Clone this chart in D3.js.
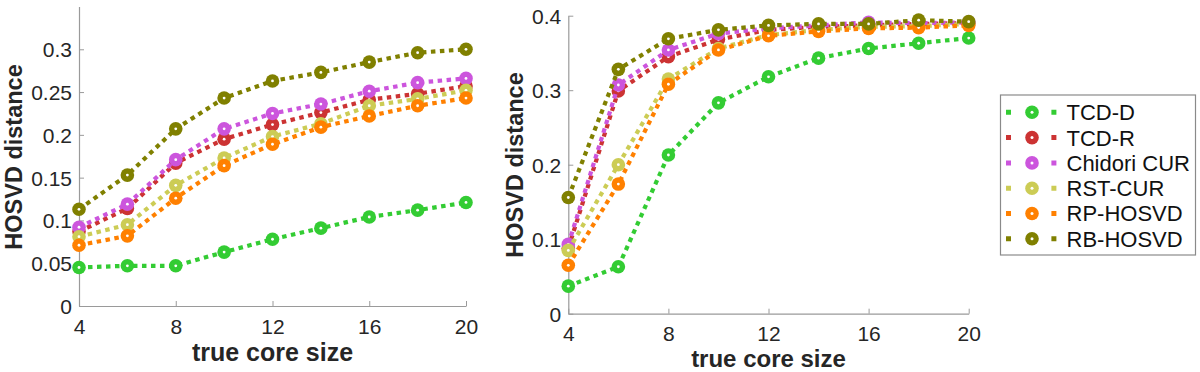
<!DOCTYPE html>
<html>
<head>
<meta charset="utf-8">
<script src="https://cdn.jsdelivr.net/npm/d3@7"></script>
<style>
  body { margin: 0; background: #fff; }
  svg { display: block; font-family: "Liberation Sans", Arial, sans-serif; }
</style>
</head>
<body>
<svg id="chart" width="1200" height="372"></svg>
<script>
// ---- data ----
const coreSizes = [4, 6, 8, 10, 12, 14, 16, 18, 20];
const seriesNames = ["TCD-D", "TCD-R", "Chidori CUR", "RST-CUR", "RP-HOSVD", "RB-HOSVD"];
const seriesColors = ["#33cc33", "#cc3333", "#cc55dd", "#cccc55", "#ff8000", "#808000"];

// left panel
const leftTCDD    = [0.045, 0.047, 0.047, 0.063, 0.078, 0.091, 0.104, 0.112, 0.121];
const leftTCDR    = [0.087, 0.114, 0.167, 0.195, 0.212, 0.226, 0.241, 0.248, 0.257];
const leftChidori = [0.092, 0.119, 0.171, 0.207, 0.225, 0.236, 0.251, 0.261, 0.266];
const leftRST     = [0.081, 0.095, 0.141, 0.173, 0.198, 0.213, 0.234, 0.242, 0.252];
const leftRP      = [0.071, 0.082, 0.126, 0.164, 0.189, 0.209, 0.222, 0.234, 0.243];
const leftRB      = [0.113, 0.153, 0.207, 0.243, 0.263, 0.273, 0.285, 0.296, 0.300];

// right panel
const rightTCDD    = [0.037, 0.063, 0.213, 0.283, 0.318, 0.343, 0.356, 0.363, 0.370];
const rightTCDR    = [0.088, 0.299, 0.345, 0.368, 0.381, 0.385, 0.387, 0.389, 0.390];
const rightChidori = [0.093, 0.307, 0.354, 0.376, 0.383, 0.387, 0.391, 0.390, 0.391];
const rightRST     = [0.085, 0.200, 0.315, 0.356, 0.374, 0.381, 0.385, 0.386, 0.389];
const rightRP      = [0.065, 0.174, 0.308, 0.354, 0.373, 0.379, 0.383, 0.384, 0.387];
const rightRB      = [0.156, 0.328, 0.369, 0.381, 0.387, 0.389, 0.389, 0.394, 0.392];

const xTicks = [4, 8, 12, 16, 20];
const leftYTicks = [0, 0.05, 0.1, 0.15, 0.2, 0.25, 0.3];
const rightYTicks = [0, 0.1, 0.2, 0.3, 0.4];
const xLabel = "true core size";
const yLabel = "HOSVD distance";

// ---- drawing ----
const svg = d3.select("#chart");
const fmt = v => String(+v.toFixed(2));

function panel(cfg) {
  const x = d3.scaleLinear().domain([4, 20]).range([cfg.x0, cfg.x1]);
  const y = d3.scaleLinear().domain([0, cfg.ymax]).range([cfg.y0, cfg.y1]);
  const g = svg.append("g");

  const xAxis = g.append("g").attr("transform", `translate(0,${cfg.y0})`)
    .call(d3.axisBottom(x).tickValues(xTicks).tickFormat(d3.format("d"))
      .tickSizeInner(-5).tickSizeOuter(0).tickPadding(cfg.xPad));
  const yAxis = g.append("g").attr("transform", `translate(${cfg.x0},0)`)
    .call(d3.axisLeft(y).tickValues(cfg.yTicks).tickFormat(fmt)
      .tickSizeInner(-5).tickSizeOuter(0).tickPadding(7));
  [xAxis, yAxis].forEach(a => {
    a.select(".domain").attr("stroke", "#9a9a9a").attr("stroke-width", 1.2);
    a.selectAll(".tick line").attr("stroke", "#9a9a9a");
    a.selectAll(".tick text").attr("fill", "#262626").style("font-size", "21px");
  });
  yAxis.selectAll(".tick text").attr("dy", "0.36em");

  g.append("text").attr("x", (cfg.x0 + cfg.x1) / 2).attr("y", cfg.xlabY)
    .attr("text-anchor", "middle").attr("font-weight", "bold")
    .style("font-size", cfg.xlabSize).attr("fill", "#262626").text(xLabel);
  g.append("text")
    .attr("transform", `translate(${cfg.ylabX},${cfg.ylabY}) rotate(-90)`)
    .attr("text-anchor", "middle").attr("font-weight", "bold")
    .style("font-size", "23.5px").attr("fill", "#262626").text(yLabel);

  const line = d3.line().x((d, i) => x(coreSizes[i])).y(d => y(d));
  cfg.series.forEach((vals, k) => {
    const s = g.append("g");
    s.append("path").datum(vals).attr("d", line)
      .attr("fill", "none").attr("stroke", seriesColors[k])
      .attr("stroke-width", 4.2).attr("stroke-dasharray", "4.5,4.5");
    s.selectAll("circle.m").data(vals).join("circle").attr("class", "m")
      .attr("cx", (d, i) => x(coreSizes[i])).attr("cy", d => y(d))
      .attr("r", 6.8).attr("fill", seriesColors[k]);
    s.selectAll("circle.c").data(vals).join("circle").attr("class", "c")
      .attr("cx", (d, i) => x(coreSizes[i])).attr("cy", d => y(d))
      .attr("r", 1.4).attr("fill", "#fff");
  });
}

panel({ x0: 79, x1: 466, y0: 306, y1: 6.5, ymax: 0.35, yTicks: leftYTicks,
  xPad: 13, xlabY: 361, xlabSize: "25px", ylabX: 21.5, ylabY: 157,
  series: [leftTCDD, leftTCDR, leftChidori, leftRST, leftRP, leftRB] });
panel({ x0: 568.3, x1: 968.7, y0: 313.7, y1: 15.7, ymax: 0.4, yTicks: rightYTicks,
  xPad: 12, xlabY: 366.6, xlabSize: "24px", ylabX: 523.3, ylabY: 165,
  series: [rightTCDD, rightTCDR, rightChidori, rightRST, rightRP, rightRB] });

// legend
const lg = svg.append("g");
lg.append("rect").attr("x", 1000.5).attr("y", 95).attr("width", 195).attr("height", 160)
  .attr("fill", "#fff").attr("stroke", "#8a8a8a").attr("stroke-width", 1.2);
seriesNames.forEach((name, k) => {
  const cy = 112.3 + k * 25.3;
  lg.append("line").attr("x1", 1006).attr("x2", 1058).attr("y1", cy).attr("y2", cy)
    .attr("stroke", seriesColors[k]).attr("stroke-width", 5)
    .attr("stroke-dasharray", "5,17.7");
  lg.append("circle").attr("cx", 1032).attr("cy", cy).attr("r", 6.8).attr("fill", seriesColors[k]);
  lg.append("circle").attr("cx", 1032).attr("cy", cy).attr("r", 1.5).attr("fill", "#fff");
  lg.append("text").attr("x", 1066.5).attr("y", cy).attr("dy", "0.36em")
    .style("font-size", "22px").attr("fill", "#111").text(name);
});
</script>
</body>
</html>
